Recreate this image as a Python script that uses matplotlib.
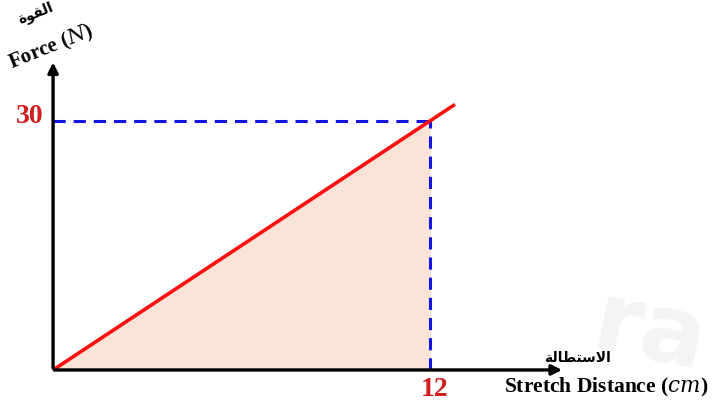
import numpy as np
import matplotlib
matplotlib.use('Agg')
import matplotlib.pyplot as plt

# data
stretch = [0, 12.8]          # cm, the red line runs a bit past the marked point
force = [0, 32.0]            # N
x_mark = 12
y_mark = 30
x_ticks = [12]
y_ticks = [30]

# arabic words written in presentation forms, visual order (no shaping in mpl)
ar_force = "\uFE93\uFEEE\uFED8\uFEDF\uFE8D"
ar_stretch = "\uFE94\uFEDF\uFE8E\uFEC4\uFE98\uFEB3\uFEFB\uFE8D"

plt.rcParams['mathtext.fontset'] = 'dejavuserif'

fig = plt.figure(figsize=(7.14, 4.03), dpi=100)
ax = fig.add_axes([0, 0, 1, 1])
ax.set_xlim(-1.69, 21.05)
ax.set_ylim(-3.98, 44.58)
ax.axis('off')

# shaded area under the line up to x = 12
xs = np.array([0, x_mark])
ax.fill_between(xs, 0, xs * y_mark / x_mark, color='#fae3d7', zorder=1)

# dashed guides
ax.plot([0, x_mark], [y_mark, y_mark], color='#1414e0', lw=2.2, ls=(0, (4, 2.6)), zorder=2)
ax.plot([x_mark, x_mark], [0, y_mark], color='#1414e0', lw=2.2, ls=(0, (4, 2.6)), zorder=2)

# axes arrows
ax.annotate('', xy=(16.3, 0), xytext=(-0.05, 0),
            arrowprops=dict(arrowstyle='-|>', lw=2.4, color='black', mutation_scale=15), zorder=4)
ax.annotate('', xy=(0, 37.4), xytext=(0, -0.1),
            arrowprops=dict(arrowstyle='-|>', lw=2.4, color='black', mutation_scale=15), zorder=4)

# the force line
ax.plot(stretch, force, color='#ff1010', lw=2.6, solid_capstyle='butt', zorder=3)

# tick values
for v in y_ticks:
    ax.text(-0.3, v + 0.5, str(v), color='#d11f1f', fontsize=20, fontweight='bold',
            family='Liberation Serif', ha='right', va='center')
for v in x_ticks:
    ax.text(v + 0.15, -0.8, str(v), color='#d11f1f', fontsize=20, fontweight='bold',
            family='Liberation Serif', ha='center', va='top')

# axis labels
ax.text(-0.05, 38.9, 'Force ($N$)', fontsize=15, fontweight='bold', family='Liberation Serif',
        rotation=22, ha='center', va='center', rotation_mode='anchor')
ax.text(-0.55, 43.0, ar_force, fontsize=10, fontweight='bold', family='DejaVu Sans',
        rotation=22, ha='center', va='center', rotation_mode='anchor')
ax.text(17.6, -2.1, 'Stretch Distance ($cm$)', fontsize=15.5, fontweight='bold',
        family='Liberation Serif', ha='center', va='center')
ax.text(16.7, 1.4, ar_stretch, fontsize=10, fontweight='bold', family='DejaVu Sans',
        ha='center', va='center')

# faint watermark in the corner
ax.text(19.0, -2.6, 'ra', fontsize=70, color='#f4f4f4', fontweight='bold',
        family='DejaVu Sans', rotation=-12, ha='center', va='bottom', zorder=0)

fig.savefig('out.png', dpi=100)
